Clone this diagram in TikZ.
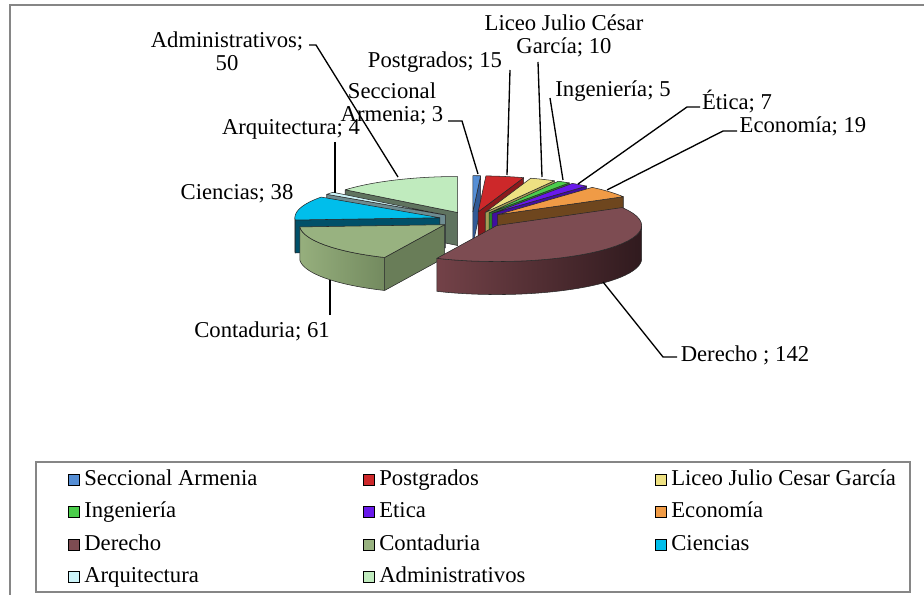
\documentclass[tikz,border=0pt]{standalone}
\usepackage{fontspec}
\setmainfont{Liberation Serif}
\usetikzlibrary{positioning}

% slice colours: top, side left, side right, radial face
\definecolor{secctop}{RGB}{85,142,213}  \definecolor{seccsl}{RGB}{60,105,165}  \definecolor{seccsr}{RGB}{40,75,125}   \definecolor{seccfc}{RGB}{50,90,150}
\definecolor{posttop}{RGB}{205,40,42}   \definecolor{postsl}{RGB}{150,28,30}   \definecolor{postsr}{RGB}{110,20,22}   \definecolor{postfc}{RGB}{140,25,28}
\definecolor{lictop}{RGB}{238,225,130}  \definecolor{licsl}{RGB}{180,170,95}   \definecolor{licsr}{RGB}{140,130,70}   \definecolor{licfc}{RGB}{165,155,85}
\definecolor{ingtop}{RGB}{75,205,75}    \definecolor{ingsl}{RGB}{45,150,45}    \definecolor{ingsr}{RGB}{30,110,30}    \definecolor{ingfc}{RGB}{40,135,40}
\definecolor{etitop}{RGB}{105,25,235}   \definecolor{etisl}{RGB}{70,15,170}    \definecolor{etisr}{RGB}{50,10,120}    \definecolor{etifc}{RGB}{65,15,160}
\definecolor{ecotop}{RGB}{240,155,70}   \definecolor{ecosl}{RGB}{140,85,35}    \definecolor{ecosr}{RGB}{100,62,25}    \definecolor{ecofc}{RGB}{110,70,30}
\definecolor{dertop}{RGB}{125,76,82}    \definecolor{dersl}{RGB}{115,66,72}    \definecolor{dersr}{RGB}{48,26,30}     \definecolor{derfc}{RGB}{90,50,55}
\definecolor{contop}{RGB}{152,178,128}  \definecolor{consl}{RGB}{150,175,125}  \definecolor{consr}{RGB}{115,138,95}   \definecolor{confc}{RGB}{105,125,88}
\definecolor{cietop}{RGB}{0,190,235}    \definecolor{ciesl}{RGB}{0,95,125}     \definecolor{ciesr}{RGB}{0,70,95}      \definecolor{ciefc}{RGB}{0,80,105}
\definecolor{arqtop}{RGB}{205,245,250}  \definecolor{arqsl}{RGB}{120,150,155}  \definecolor{arqsr}{RGB}{90,115,120}   \definecolor{arqfc}{RGB}{110,140,145}
\definecolor{admtop}{RGB}{192,235,190}  \definecolor{admsl}{RGB}{120,145,120}  \definecolor{admsr}{RGB}{90,110,90}    \definecolor{admfc}{RGB}{95,115,95}
\definecolor{framegrey}{RGB}{134,134,134}
\definecolor{edgegrey}{RGB}{40,40,40}

% pie: centre, radii, thickness, explosion
\def\cx{472}\def\cy{220}\def\rx{145}\def\ry{36}\def\ph{33}\def\ex{0.23}

% one exploded slice, angles clockwise from the top
\newcommand{\pieslice}[3]{%
  \pgfmathsetmacro{\slm}{(#1+#2)/2}%
  \pgfmathsetmacro{\slax}{\cx+\ex*\rx*sin(\slm)}%
  \pgfmathsetmacro{\slay}{\cy-\ex*\ry*cos(\slm)}%
  \pgfmathsetmacro{\sls}{sin(#1)}%
  \pgfmathsetmacro{\sle}{sin(#2)}%
  \pgfmathsetmacro{\sllo}{max(#1,90)}%
  \pgfmathsetmacro{\slhi}{min(#2,270)}%
  \ifdim\sls pt<-0.01pt
    \filldraw[face, fill=#3fc] (\slax,\slay) -- ({\slax+\rx*sin(#1)},{\slay-\ry*cos(#1)}) -- ++(0,\ph) -- (\slax,{\slay+\ph}) -- cycle;
  \fi
  \ifdim\sle pt>0.01pt
    \filldraw[face, fill=#3fc] (\slax,\slay) -- ({\slax+\rx*sin(#2)},{\slay-\ry*cos(#2)}) -- ++(0,\ph) -- (\slax,{\slay+\ph}) -- cycle;
  \fi
  \ifdim\sllo pt<\slhi pt
    \shadedraw[face, left color=#3sl, right color=#3sr] plot[domain=\sllo:\slhi] ({\slax+\rx*sin(\x)},{\slay-\ry*cos(\x)}) -- plot[domain=\slhi:\sllo] ({\slax+\rx*sin(\x)},{\slay+\ph-\ry*cos(\x)}) -- cycle;
  \fi
  \filldraw[face, fill=#3top] (\slax,\slay) -- plot[domain=#1:#2] ({\slax+\rx*sin(\x)},{\slay-\ry*cos(\x)}) -- cycle;
}

\tikzset{
  face/.style={draw=edgegrey, line width=0.4pt, line join=round, samples=30},
  lbl/.style={font=\fontsize{17}{17.25}\selectfont, inner sep=0pt},
  leader/.style={draw=black, line width=1pt},
  legmark/.style={draw=black, line width=1.1pt, minimum size=8pt, inner sep=0pt},
  legtext/.style={font=\fontsize{17}{17.25}\selectfont, inner sep=0pt, text height=12pt, text depth=3.5pt},
}

\begin{document}
\begin{tikzpicture}[x=0.75pt, y=-0.75pt]
  \useasboundingbox (0,0) rectangle (924,595);

  % outer frame
  \draw[framegrey, line width=1.1pt] (10,595) -- (10,5) -- (924,5);

  % slices, back to front
  \pieslice{0}{3.0508}{secc}
  \pieslice{3.0508}{18.305}{post}
  \pieslice{309.153}{360}{adm}
  \pieslice{305.085}{309.153}{arq}
  \pieslice{18.305}{28.475}{lic}
  \pieslice{28.475}{33.559}{ing}
  \pieslice{33.559}{40.678}{eti}
  \pieslice{40.678}{60}{eco}
  \pieslice{266.441}{305.085}{cie}
  \pieslice{204.407}{266.441}{con}
  \pieslice{60}{204.407}{der}

  % data labels
  \node[lbl, align=center] (l-adm) at (227,51) {Administrativos;\\50};
  \node[lbl, align=center] (l-secc) at (392,104) {Seccional\\Armenia; 3};
  \node[lbl] (l-post) at (435,62) {Postgrados; 15};
  \node[lbl, align=center] (l-lic) at (564,36) {Liceo Julio César\\García; 10};
  \node[lbl] (l-ing) at (613,91) {Ingeniería; 5};
  \node[lbl] (l-eti) at (737,102) {Ética; 7};
  \node[lbl] (l-eco) at (803,126) {Economía; 19};
  \node[lbl] (l-arq) at (291,129) {Arquitectura; 4};
  \node[lbl] (l-cie) at (237,194) {Ciencias; 38};
  \node[lbl] (l-con) at (262,331) {Contaduria; 61};
  \node[lbl] (l-der) at (745,355) {Derecho ; 142};

  % leader lines
  \coordinate (a-adm) at (309,45);  \coordinate (k-adm) at (316,45);  \coordinate (e-adm) at (398,177);
  \coordinate (a-secc) at (448,121); \coordinate (k-secc) at (462,121); \coordinate (e-secc) at (478,174);
  \coordinate (a-post) at (510,70);  \coordinate (e-post) at (507,175);
  \coordinate (a-lic) at (538,62);   \coordinate (e-lic) at (542,177);
  \coordinate (a-ing) at (550,98);   \coordinate (e-ing) at (563,180);
  \coordinate (a-eti) at (700,107);  \coordinate (k-eti) at (687,107); \coordinate (e-eti) at (578,184);
  \coordinate (a-eco) at (737,131);  \coordinate (k-eco) at (723,131); \coordinate (e-eco) at (607,190);
  \coordinate (a-arq) at (335,142);  \coordinate (e-arq) at (335,193);
  \coordinate (a-con) at (330,315);  \coordinate (e-con) at (330,280);
  \coordinate (a-der) at (677,357);  \coordinate (k-der) at (663,357); \coordinate (e-der) at (603,282);

  \draw[leader] (a-adm) -- (k-adm) -- (e-adm);
  \draw[leader] (a-secc) -- (k-secc) -- (e-secc);
  \draw[leader] (a-post) -- (e-post);
  \draw[leader] (a-lic) -- (e-lic);
  \draw[leader] (a-ing) -- (e-ing);
  \draw[leader] (a-eti) -- (k-eti) -- (e-eti);
  \draw[leader] (a-eco) -- (k-eco) -- (e-eco);
  \draw[leader] (a-arq) -- (e-arq);
  \draw[leader] (a-con) -- (e-con);
  \draw[leader] (a-der) -- (k-der) -- (e-der);

  % legend
  \draw[framegrey, line width=1.1pt] (36,462) rectangle (910,592);

  \node[legmark, fill=secctop] (m-secc) at (74,480) {};
  \node[legtext, right=3pt of m-secc] (t-secc) {Seccional Armenia};
  \node[legmark, fill=posttop] (m-post) at (369,480) {};
  \node[legtext, right=3pt of m-post] (t-post) {Postgrados};
  \node[legmark, fill=lictop] (m-lic) at (661,480) {};
  \node[legtext, right=3pt of m-lic] (t-lic) {Liceo Julio Cesar García};

  \node[legmark, fill=ingtop] (m-ing) at (74,512) {};
  \node[legtext, right=3pt of m-ing] (t-ing) {Ingeniería};
  \node[legmark, fill=etitop] (m-eti) at (369,512) {};
  \node[legtext, right=3pt of m-eti] (t-eti) {Etica};
  \node[legmark, fill=ecotop] (m-eco) at (661,512) {};
  \node[legtext, right=3pt of m-eco] (t-eco) {Economía};

  \node[legmark, fill=dertop] (m-der) at (74,545) {};
  \node[legtext, right=3pt of m-der] (t-der) {Derecho};
  \node[legmark, fill=contop] (m-con) at (369,545) {};
  \node[legtext, right=3pt of m-con] (t-con) {Contaduria};
  \node[legmark, fill=cietop] (m-cie) at (661,545) {};
  \node[legtext, right=3pt of m-cie] (t-cie) {Ciencias};

  \node[legmark, fill=arqtop] (m-arq) at (74,577) {};
  \node[legtext, right=3pt of m-arq] (t-arq) {Arquitectura};
  \node[legmark, fill=admtop] (m-adm) at (369,577) {};
  \node[legtext, right=3pt of m-adm] (t-adm) {Administrativos};
\end{tikzpicture}
\end{document}
